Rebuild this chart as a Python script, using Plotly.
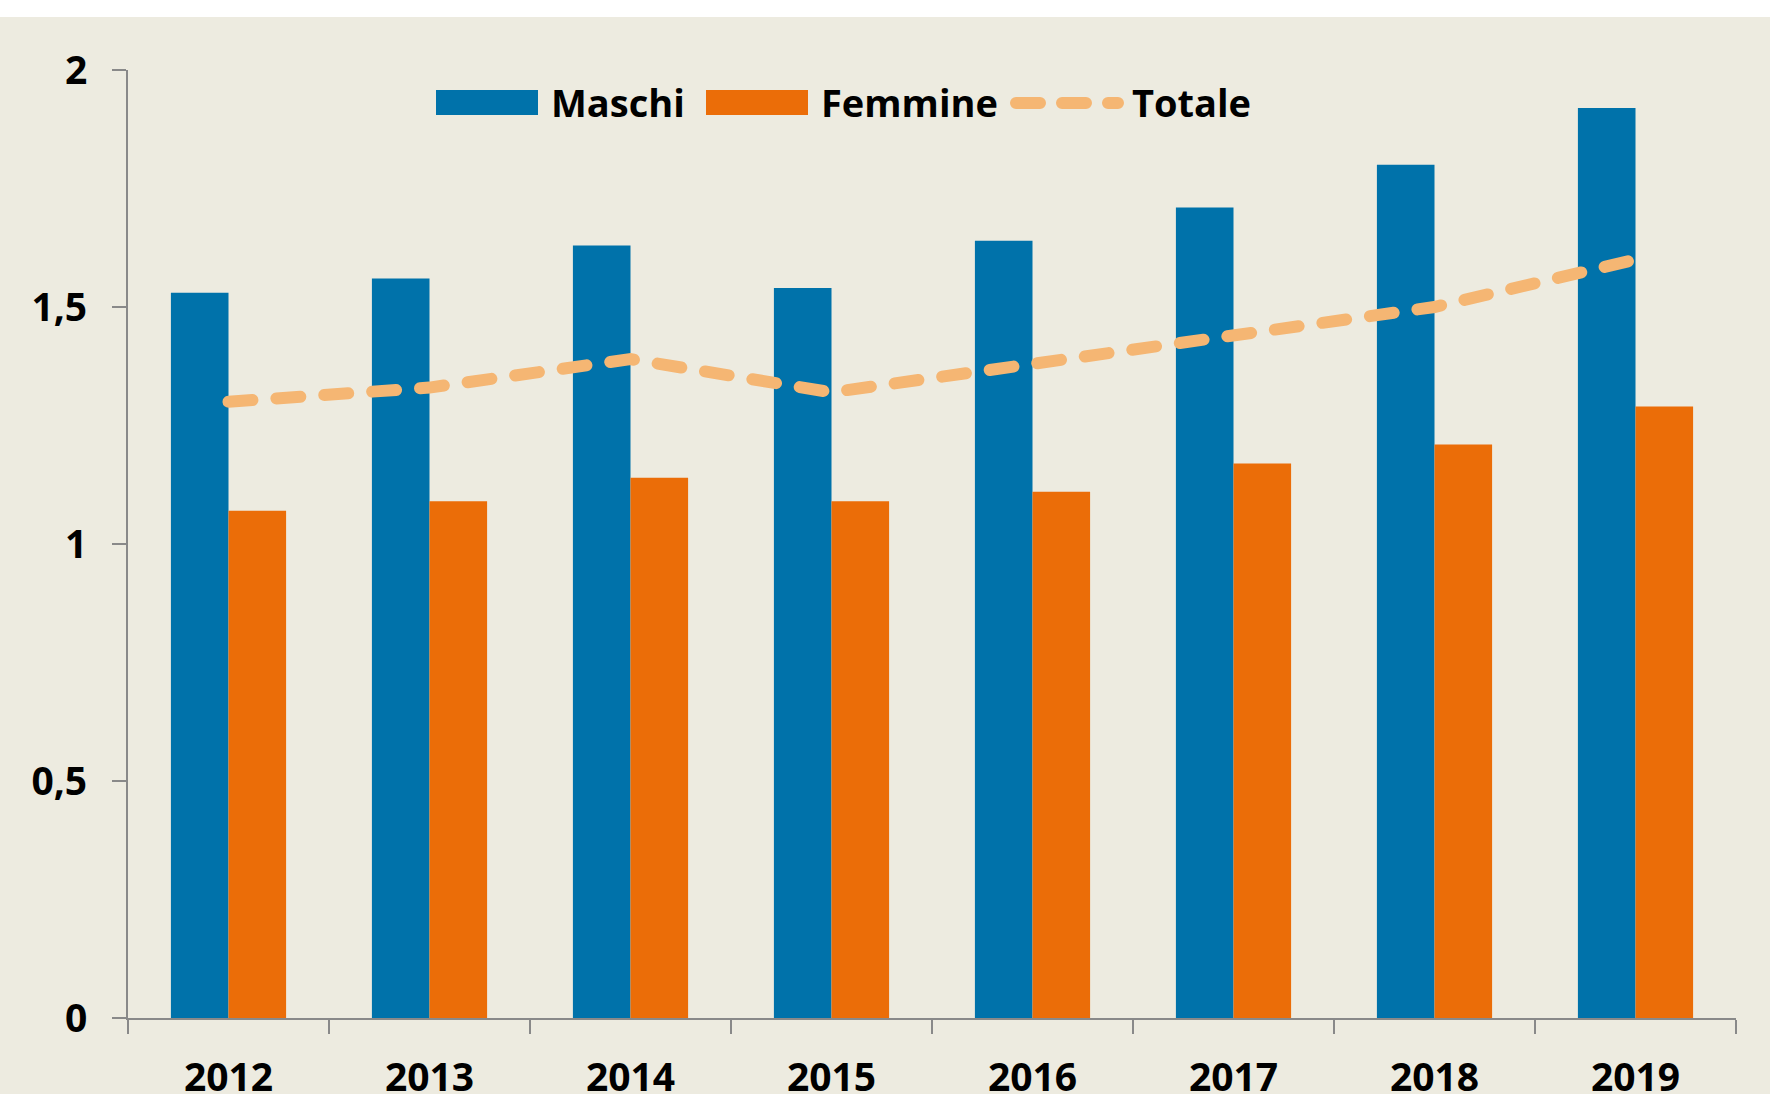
import plotly.graph_objects as go

# ---- data ----
anni = ["2012", "2013", "2014", "2015", "2016", "2017", "2018", "2019"]
maschi = [1.53, 1.56, 1.63, 1.54, 1.64, 1.71, 1.80, 1.92]
femmine = [1.07, 1.09, 1.14, 1.09, 1.11, 1.17, 1.21, 1.29]
totale = [1.30, 1.33, 1.39, 1.32, 1.38, 1.44, 1.50, 1.60]
y_ticks = [0, 0.5, 1, 1.5, 2]
serie_nomi = ["Maschi", "Femmine", "Totale"]

# ---- style ----
W, H = 1770, 1094
L, R, T, B = 128, 34, 70, 76
BG = "#EDEBE0"
BLUE = "#0072AA"
ORANGE = "#EB6D08"
LINE = "#F5B673"
AXIS = "#898989"
FONT = "Open Sans"

fig = go.Figure()
fig.add_trace(go.Bar(x=anni, y=maschi, name=serie_nomi[0], marker=dict(color=BLUE, line=dict(width=0))))
fig.add_trace(go.Bar(x=anni, y=femmine, name=serie_nomi[1], marker=dict(color=ORANGE, line=dict(width=0))))
fig.add_trace(go.Scatter(x=anni, y=totale, name=serie_nomi[2], mode="lines",
                         line=dict(color=LINE, width=12, dash="24px,24px")))

pw = W - L - R
ph = H - T - B


def px_x(px):
    return (px - L) / pw


def px_y(py):
    return (H - B - py) / ph


shapes = []
# white strip at top
shapes.append(dict(type="rect", xref="paper", yref="paper", x0=-1, x1=2,
                   y0=px_y(17), y1=px_y(-50), fillcolor="white", line=dict(width=0), layer="below"))
# legend
shapes.append(dict(type="rect", xref="paper", yref="paper", x0=px_x(436), x1=px_x(538),
                   y0=px_y(115), y1=px_y(90), fillcolor=BLUE, line=dict(width=0)))
shapes.append(dict(type="rect", xref="paper", yref="paper", x0=px_x(706), x1=px_x(808),
                   y0=px_y(115), y1=px_y(90), fillcolor=ORANGE, line=dict(width=0)))
shapes.append(dict(type="line", xref="paper", yref="paper", x0=px_x(1016), x1=px_x(1118),
                   y0=px_y(103), y1=px_y(103), line=dict(color=LINE, width=12, dash="24px,22px")))

annotations = []
for name, xp in zip(serie_nomi, [549, 819, 1130]):
    annotations.append(dict(text=name, xref="paper", yref="paper", x=px_x(xp), y=px_y(102),
                            xanchor="left", yanchor="middle", showarrow=False,
                            font=dict(family=FONT, size=38, color="black", weight=700)))

fig.update_layout(
    width=W, height=H,
    margin=dict(l=L, r=R, t=T, b=B),
    paper_bgcolor=BG, plot_bgcolor=BG,
    barmode="group", bargap=0.427, bargroupgap=0,
    showlegend=False,
    separators=",.",
    shapes=shapes,
    annotations=annotations,
    font=dict(family=FONT, color="black"),
)
fig.update_xaxes(
    type="category", showgrid=False, showline=True, linecolor=AXIS, linewidth=2,
    ticks="outside", tickson="boundaries", ticklen=14, tickwidth=2, tickcolor=AXIS,
    tickfont=dict(family=FONT, size=39, color="black", weight=700),
    ticklabelstandoff=24, automargin=False,
)
fig.update_yaxes(
    range=[0, 2], tickvals=y_ticks, showgrid=False, zeroline=False,
    showline=True, linecolor=AXIS, linewidth=2,
    ticks="outside", ticklen=14, tickwidth=2, tickcolor=AXIS,
    tickfont=dict(family=FONT, size=39, color="black", weight=700),
    ticklabelstandoff=17, automargin=False,
)

post = """
document.body.style.margin = '0';
document.body.style.overflow = 'hidden';
document.querySelectorAll('.scatterlayer path.js-line, .shapelayer path').forEach(function(p){
  p.style.strokeLinecap = 'round';
});
"""
fig.write_html("out.html", post_script=post, config={"displayModeBar": False})
